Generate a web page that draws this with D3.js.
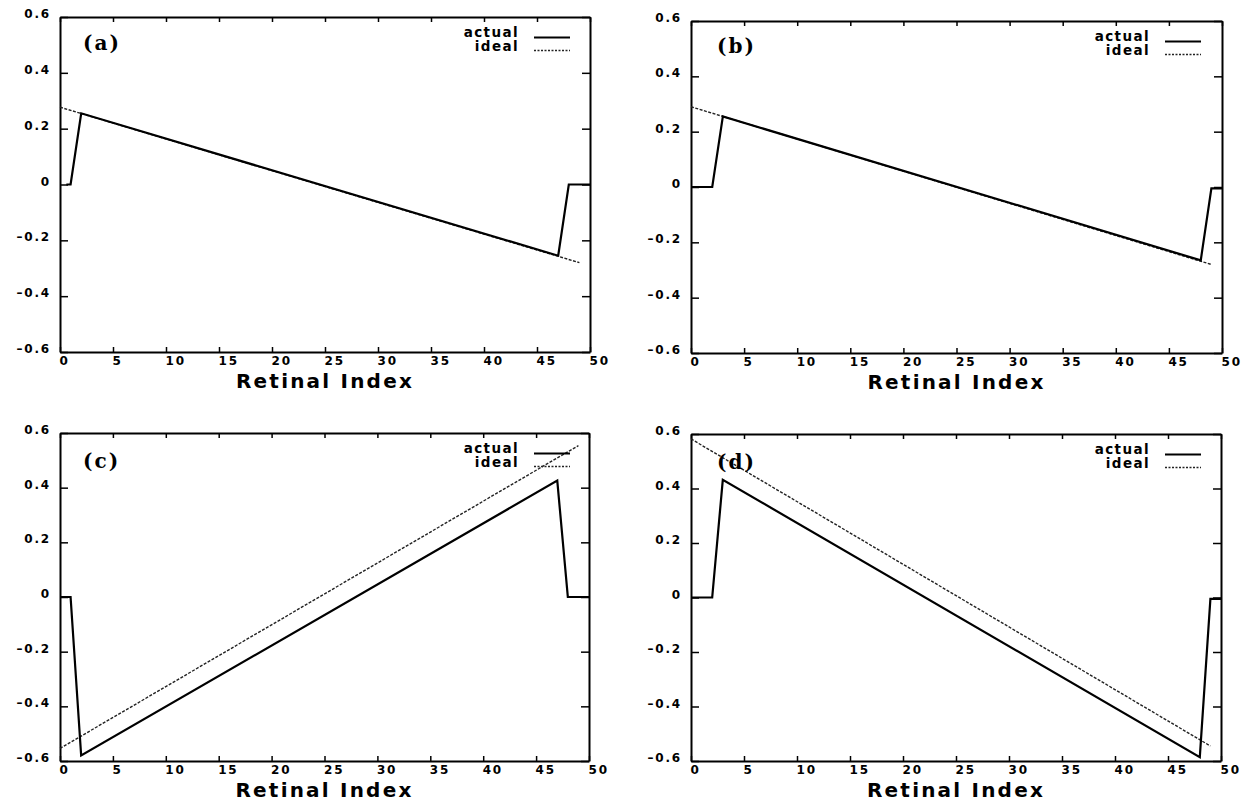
<!DOCTYPE html>
<html>
<head>
<meta charset="utf-8">
<script src="https://cdn.jsdelivr.net/npm/d3@7"></script>
<style>
    body { margin: 0; background: #fff; }
    svg { display: block; }
    .tick text { font-family: 'DejaVu Sans', sans-serif; font-weight: bold; font-size: 12px; letter-spacing: 1.8px; fill: #000; }
    .axis path { stroke: #000; stroke-width: 2; }
    .axis line { stroke: #000; stroke-width: 1.5; }
    .xlabel { font-family: 'DejaVu Sans', sans-serif; font-weight: bold; font-size: 20px; letter-spacing: 2.2px; }
    .legend { font-family: 'DejaVu Sans', sans-serif; font-weight: bold; font-size: 13.5px; letter-spacing: 1.4px; }
    .panel { font-family: 'DejaVu Serif', serif; font-weight: bold; font-size: 20px; letter-spacing: 2px; }
</style>
</head>
<body>
<script>

let xTicks = [0, 5, 10, 15, 20, 25, 30, 35, 40, 45, 50];
let yTicks = [-0.6, -0.4, -0.2, 0, 0.2, 0.4, 0.6];
let yTickLabels = ['\u20130.6', '\u20130.4', '\u20130.2', '0', '0.2', '0.4', '0.6'];
let panelNames = ['(a)', '(b)', '(c)', '(d)'];
let legendNames = ['actual', 'ideal'];
let xTitle = 'Retinal Index';

// actual response: retinal index / value
let actualIdxA = [0.6, 1, 2, 47, 48, 50];
let actualA = [0, 0, 0.255, -0.255, 0, 0];
let actualIdxB = [0, 2, 3, 48, 49, 50];
let actualB = [0, 0, 0.255, -0.265, -0.005, -0.005];
let actualIdxC = [0, 1, 2, 47, 48, 50];
let actualC = [0, 0, -0.58, 0.426, 0, 0];
let actualIdxD = [0, 2, 3, 48, 49, 50];
let actualD = [0, 0, 0.432, -0.586, -0.005, -0.005];

// ideal response
let idealIdxA = [0, 49];
let idealA = [0.277, -0.28];
let idealIdxB = [0, 49];
let idealB = [0.29, -0.28];
let idealIdxC = [0, 49];
let idealC = [-0.554, 0.554];
let idealIdxD = [0, 49];
let idealD = [0.582, -0.545];

let actualIdx = [actualIdxA, actualIdxB, actualIdxC, actualIdxD];
let actual = [actualA, actualB, actualC, actualD];
let idealIdx = [idealIdxA, idealIdxB, idealIdxC, idealIdxD];
let ideal = [idealA, idealB, idealC, idealD];

// plot frames on the page
let frames = [
    { left: 60, right: 590, top: 17, bottom: 352 },
    { left: 691, right: 1222, top: 21, bottom: 353 },
    { left: 60, right: 589, top: 433, bottom: 761 },
    { left: 691, right: 1221, top: 434, bottom: 761 }
];
let labelOffsets = [[23, 33], [26, 32], [23, 35], [26, 35]];

let svg = d3.select('body')
    .append('svg')
    .attr('width', 1243)
    .attr('height', 803);

let drawPanel = (i) => {
    let f = frames[i];
    let x = d3.scaleLinear().domain([0, 50]).range([f.left, f.right]);
    let y = d3.scaleLinear().domain([-0.6, 0.6]).range([f.bottom, f.top]);
    let g = svg.append('g');

    g.append('g')
        .attr('class', 'axis')
        .attr('transform', `translate(0,${f.bottom})`)
        .call(d3.axisBottom(x).tickValues(xTicks).tickSize(-5).tickSizeOuter(0).tickPadding(4))
        .call(ax => ax.selectAll('text').attr('text-anchor', 'start').attr('x', -1));

    g.append('g')
        .attr('class', 'axis')
        .attr('transform', `translate(0,${f.top})`)
        .call(d3.axisTop(x).tickValues(xTicks).tickSize(-5).tickSizeOuter(0).tickFormat(''));

    g.append('g')
        .attr('class', 'axis')
        .attr('transform', `translate(${f.left},0)`)
        .call(d3.axisLeft(y).tickValues(yTicks).tickSize(-8).tickSizeOuter(0).tickPadding(9)
            .tickFormat((d, j) => yTickLabels[j]))
        .call(ax => ax.selectAll('text').attr('dy', '0.05em'));

    g.append('g')
        .attr('class', 'axis')
        .attr('transform', `translate(${f.right},0)`)
        .call(d3.axisRight(y).tickValues(yTicks).tickSize(-8).tickSizeOuter(0).tickFormat(''));

    let line = d3.line()
        .x(d => x(d[0]))
        .y(d => y(d[1]));

    g.append('path')
        .datum(d3.zip(idealIdx[i], ideal[i]))
        .attr('d', line)
        .attr('fill', 'none')
        .attr('stroke', '#222')
        .attr('stroke-width', 1.4)
        .attr('stroke-dasharray', '3,1.5');

    g.append('path')
        .datum(d3.zip(actualIdx[i], actual[i]))
        .attr('d', line)
        .attr('fill', 'none')
        .attr('stroke', '#000')
        .attr('stroke-width', 2.2);

    // legend
    legendNames.forEach((name, k) => {
        g.append('text')
            .attr('class', 'legend')
            .attr('x', f.left + 459)
            .attr('y', f.top + 20 + k * 14)
            .attr('text-anchor', 'end')
            .text(name);
        g.append('line')
            .attr('x1', f.left + 474)
            .attr('x2', f.left + 510)
            .attr('y1', f.top + 20.5 + k * 13)
            .attr('y2', f.top + 20.5 + k * 13)
            .attr('stroke', k == 0 ? '#000' : '#222')
            .attr('stroke-width', k == 0 ? 2 : 1.4)
            .attr('stroke-dasharray', k == 0 ? null : '2,1.5');
    });

    g.append('text')
        .attr('class', 'panel')
        .attr('x', f.left + labelOffsets[i][0])
        .attr('y', f.top + labelOffsets[i][1])
        .text(panelNames[i]);

    g.append('text')
        .attr('class', 'xlabel')
        .attr('x', (f.left + f.right) / 2)
        .attr('y', f.bottom + 36)
        .attr('text-anchor', 'middle')
        .text(xTitle);
}

panelNames.forEach((d, i) => drawPanel(i));

</script>
</body>
</html>
